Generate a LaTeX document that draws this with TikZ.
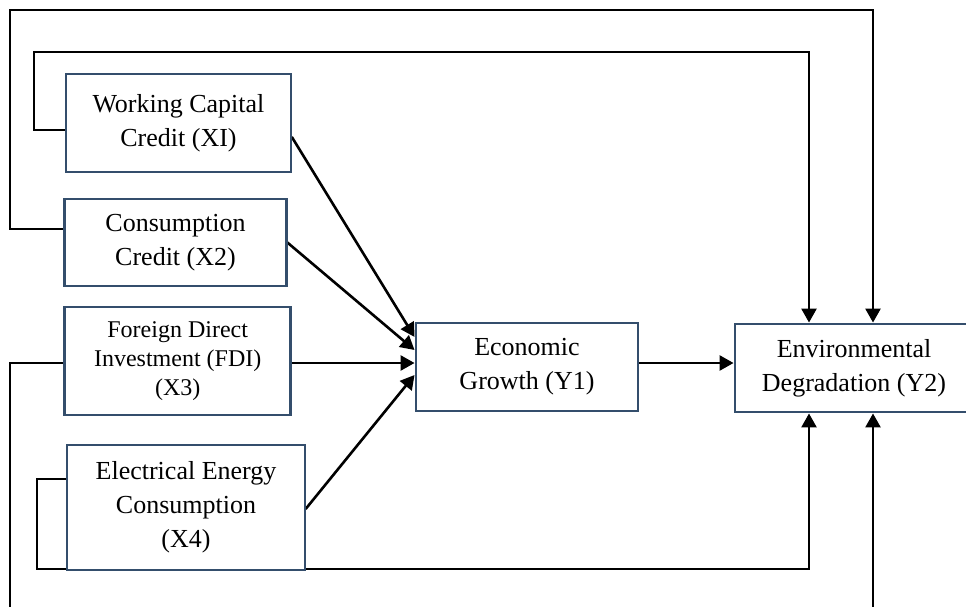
\documentclass[tikz,border=0pt]{standalone}
\usepackage{fontspec}
\setmainfont{Liberation Serif}
\usetikzlibrary{arrows.meta}
\definecolor{boxblue}{RGB}{52,78,108}
\pgfdeclarelayer{bg}
\pgfsetlayers{bg,main}
\begin{document}
\begin{tikzpicture}[x=1pt,y=-1pt,
  varbox/.style={draw=boxblue, line width=2.9pt, fill=white, align=center,
    inner sep=0pt, font=\fontsize{26}{34}\selectfont},
  smallbox/.style={varbox, font=\fontsize{24}{29}\selectfont},
  conn/.style={line width=2.6pt, line cap=rect},
  arr/.style={conn, -{Triangle[length=14pt,width=15pt]}}
]
\useasboundingbox (0,0) rectangle (966,607);
\begin{scope}
\clip (0,0) rectangle (966,607);
% nodes
\node[varbox, minimum width=225, minimum height=98] (X1) at (178.5,123) {Working Capital\\Credit (XI)};
\node[varbox, minimum width=222, minimum height=87] (X2) at (175.5,242.5) {Consumption\\Credit (X2)};
\node[smallbox, minimum width=226, minimum height=108] (X3) at (177.7,361) {Foreign Direct\\Investment (FDI)\\(X3)};
\node[varbox, minimum width=238, minimum height=125] (X4) at (186,507.5) {Electrical Energy\\Consumption\\(X4)};
\node[varbox, minimum width=222, minimum height=88] (Y1) at (527,367) {Economic\\Growth (Y1)};
\node[varbox, minimum width=238, minimum height=88] (Y2) at (854,368) {Environmental\\Degradation (Y2)};

% helper coordinates
\coordinate (bl) at (10,607);
\coordinate (br) at (873,607);

\begin{pgfonlayer}{bg}
% feedback loops
\draw[arr] (X2.west |- 0,229) -- (10,229) -- (10,10) -- (873,10) -- (Y2.north -| 873,0);
\draw[arr] (X1.west |- 0,130) -- (34,130) -- (34,52) -- (809,52) -- (Y2.north -| 809,0);
\draw[conn] (X3.west |- 0,363) -- (10,363) -- (bl);
\draw[arr] (X4.west |- 0,479) -- (37,479) -- (37,569) -- (809,569) -- (Y2.south -| 809,0);
\draw[arr] (br) -- (Y2.south -| 873,0);

% arrows into Economic Growth
\draw[arr] (X1.east |- 0,138) -- (Y1.west |- 0,337);
\draw[arr] (X2.east |- 0,243) -- (Y1.west |- 0,350);
\draw[arr] (X3.east |- 0,363) -- (Y1.west |- 0,363);
\draw[arr] (X4.east |- 0,508) -- (Y1.west |- 0,375);
\draw[arr] (Y1.east |- 0,363) -- (Y2.west |- 0,363);
\end{pgfonlayer}
\end{scope}
\end{tikzpicture}
\end{document}
